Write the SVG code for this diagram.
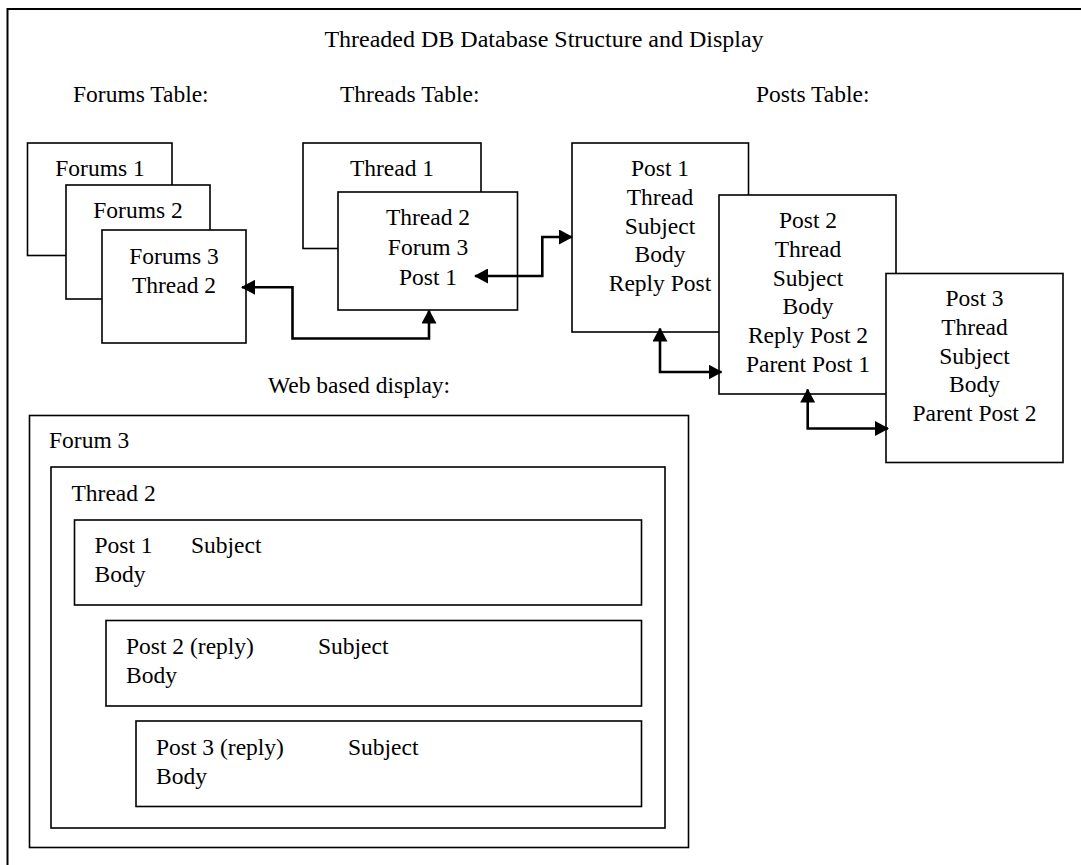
<svg xmlns="http://www.w3.org/2000/svg" width="1081" height="865" viewBox="0 0 1081 865" font-family="'Liberation Serif', 'DejaVu Serif', serif">
  <style>
    text { font-family: 'Liberation Serif', 'DejaVu Serif', serif; font-size: 23.5px; fill: #000; }
    .c { text-anchor: middle; }
    .box { fill: #fff; stroke: #000; stroke-width: 1.6; }
    .conn { fill: none; stroke: #000; stroke-width: 2.6; marker-start: url(#ah); marker-end: url(#ah); }
  </style>
  <defs>
    <marker id="ah" markerUnits="userSpaceOnUse" markerWidth="14" markerHeight="15" refX="13" refY="7.5" orient="auto-start-reverse">
      <path d="M0,0 L14,7.5 L0,15 Z" fill="#000"/>
    </marker>
  </defs>
  <rect width="1081" height="865" fill="#fff"/>
  <rect x="7.5" y="9" width="1090" height="880" fill="none" stroke="#000" stroke-width="2"/>

  <g id="labels">
    <text class="c" x="544" y="47" style="font-size:24px">Threaded DB Database Structure and Display</text>
    <text x="73" y="102">Forums Table:</text>
    <text x="340" y="102">Threads Table:</text>
    <text x="756" y="102">Posts Table:</text>
    <text x="268" y="393">Web based display:</text>
  </g>

  <g id="forums1"><rect class="box" x="27.5" y="143" width="144.5" height="112.5"/><text class="c" x="100" y="176">Forums 1</text></g>
  <g id="forums2"><rect class="box" x="66" y="185" width="144" height="114"/><text class="c" x="138" y="218">Forums 2</text></g>
  <g id="forums3"><rect class="box" x="102" y="230" width="144" height="113"/><text class="c" x="174" y="263.5">Forums 3</text><text class="c" x="174" y="292.5">Thread 2</text></g>

  <g id="thread1"><rect class="box" x="303" y="143" width="178" height="105.5"/><text class="c" x="392" y="176">Thread 1</text></g>
  <g id="thread2"><rect class="box" x="338" y="192" width="179.5" height="118"/><text class="c" x="428" y="225">Thread 2</text><text class="c" x="428" y="255">Forum 3</text><text class="c" x="428" y="284.5">Post 1</text></g>

  <g id="post1"><rect class="box" x="572" y="143" width="176.5" height="189"/>
    <text class="c" x="660" y="176">Post 1</text><text class="c" x="660" y="205">Thread</text><text class="c" x="660" y="234">Subject</text><text class="c" x="660" y="262">Body</text><text class="c" x="660" y="291">Reply Post</text></g>
  <g id="post2"><rect class="box" x="719" y="195" width="177" height="199"/>
    <text class="c" x="808" y="228">Post 2</text><text class="c" x="808" y="257">Thread</text><text class="c" x="808" y="286">Subject</text><text class="c" x="808" y="314">Body</text><text class="c" x="808" y="343">Reply Post 2</text><text class="c" x="808" y="372">Parent Post 1</text></g>
  <g id="post3"><rect class="box" x="886" y="273.5" width="177" height="189"/>
    <text class="c" x="974.5" y="306">Post 3</text><text class="c" x="974.5" y="335">Thread</text><text class="c" x="974.5" y="364">Subject</text><text class="c" x="974.5" y="392">Body</text><text class="c" x="974.5" y="421">Parent Post 2</text></g>

  <g id="connectors">
    <path class="conn" d="M429,310.5 V338.5 H292.5 V287.3 H242"/>
    <path class="conn" d="M475,276 H542.3 V237 H572"/>
    <path class="conn" d="M660,328.5 V372 H721.5"/>
    <path class="conn" d="M807.7,389.5 V428.5 H888"/>
  </g>

  <g id="display-forum"><rect class="box" x="29.5" y="415.5" width="659" height="432"/><text x="49" y="448">Forum 3</text></g>
  <g id="display-thread"><rect class="box" x="51" y="467" width="614" height="361"/><text x="71.5" y="501">Thread 2</text></g>
  <g id="display-post1"><rect class="box" x="74.5" y="520" width="567" height="85"/><text x="94.5" y="552.5">Post 1</text><text x="191" y="552.5">Subject</text><text x="94.5" y="581.5">Body</text></g>
  <g id="display-post2"><rect class="box" x="106" y="620.5" width="535.5" height="85.5"/><text x="126" y="654">Post 2 (reply)</text><text x="318" y="654">Subject</text><text x="126" y="683">Body</text></g>
  <g id="display-post3"><rect class="box" x="136" y="721" width="505.5" height="85.5"/><text x="156" y="755">Post 3 (reply)</text><text x="348" y="755">Subject</text><text x="156" y="784">Body</text></g>
</svg>
